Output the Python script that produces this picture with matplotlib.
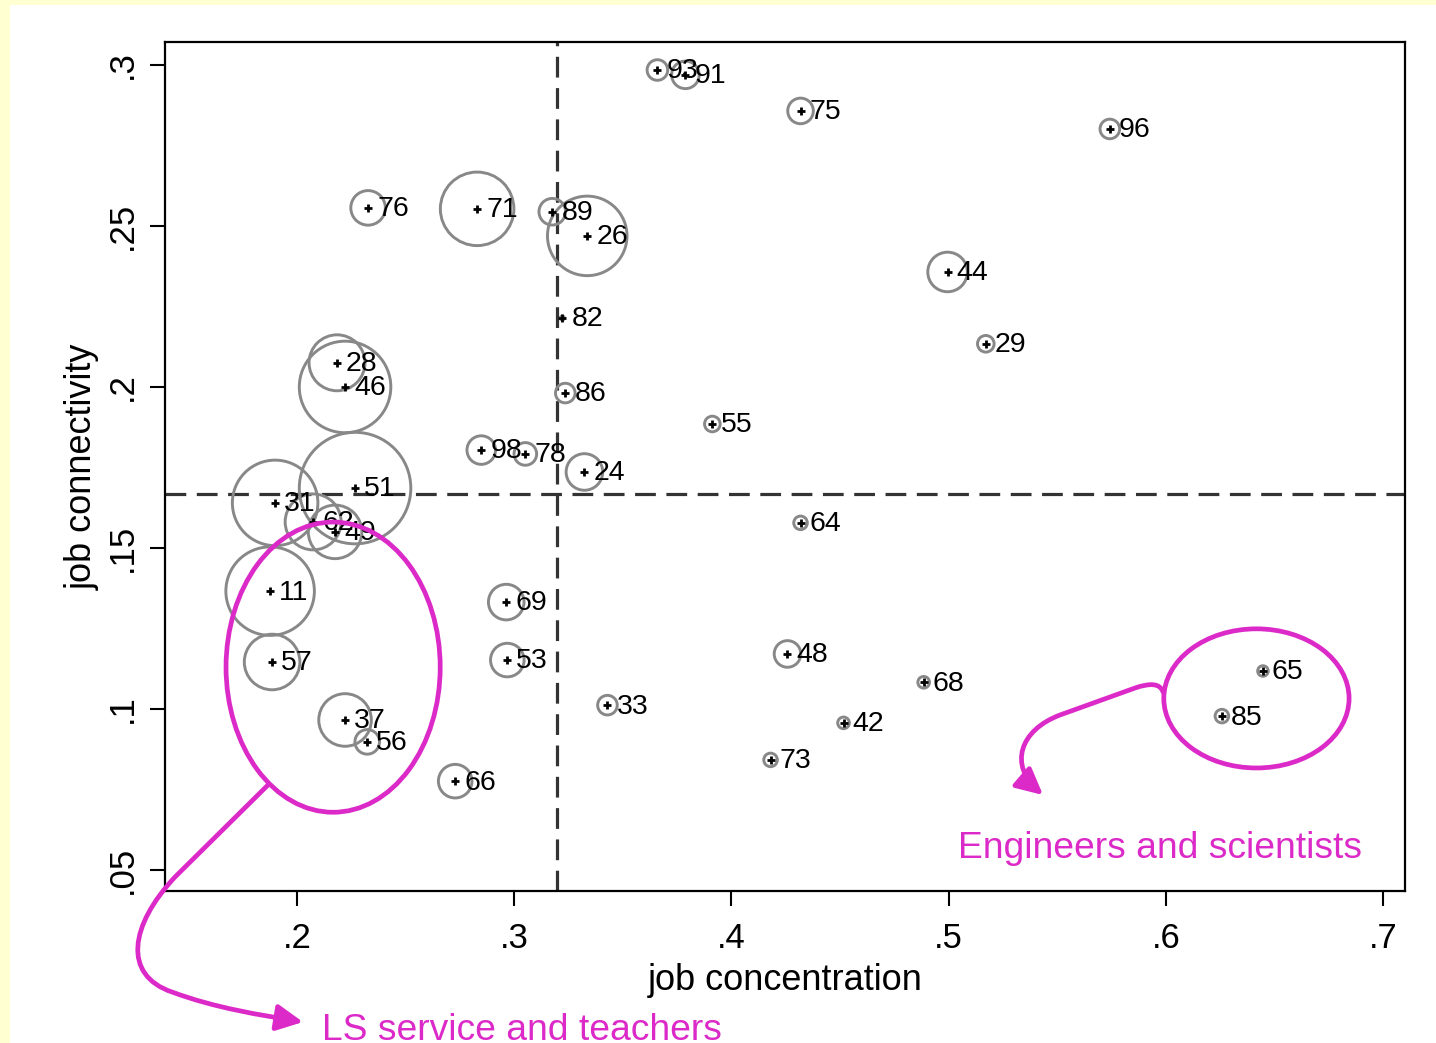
import numpy as np
import matplotlib
matplotlib.use("Agg")
import matplotlib.pyplot as plt
from matplotlib.patches import Ellipse, FancyArrowPatch, Rectangle
from matplotlib.path import Path

plt.rcParams['font.family'] = ['Liberation Sans', 'DejaVu Sans']

# occupation codes, job concentration (x), job connectivity (y), employment weight
occ = ['93', '91', '75', '96', '76', '71', '89', '26', '44', '82', '29', '28', '46',
       '86', '55', '98', '78', '24', '51', '31', '62', '49', '64', '11', '69', '57',
       '53', '48', '65', '68', '33', '85', '42', '37', '56', '73', '66']
conc = [0.3659, 0.3788, 0.4318, 0.5742, 0.2327, 0.2829, 0.3175, 0.3336, 0.4995, 0.3221,
        0.5171, 0.2184, 0.2221, 0.3235, 0.3912, 0.2848, 0.3051, 0.3323, 0.2267, 0.1899,
        0.2074, 0.2175, 0.4318, 0.1876, 0.2963, 0.1885, 0.2968, 0.4258, 0.6447, 0.4885,
        0.3429, 0.6258, 0.4516, 0.2221, 0.2323, 0.4180, 0.2728]
conn = [0.2984, 0.2969, 0.2857, 0.2801, 0.2556, 0.2553, 0.2544, 0.2469, 0.2357, 0.2214,
        0.2134, 0.2075, 0.2000, 0.1981, 0.1885, 0.1804, 0.1792, 0.1736, 0.1686, 0.1640,
        0.1581, 0.1550, 0.1578, 0.1366, 0.1332, 0.1146, 0.1152, 0.1171, 0.1118, 0.1083,
        0.1012, 0.0978, 0.0957, 0.0966, 0.0898, 0.0842, 0.0776]
weight = [106, 190, 164, 96, 299, 1354, 177, 1584, 392, 4, 69, 784, 2098,
          96, 61, 204, 128, 335, 3114, 1832, 784, 718, 46, 1962, 317, 773,
          282, 177, 28, 34, 96, 46, 34, 692, 151, 46, 282]

xticks = [0.2, 0.3, 0.4, 0.5, 0.6, 0.7]
yticks = [0.05, 0.1, 0.15, 0.2, 0.25, 0.3]
mean_conc = 0.3198
mean_conn = 0.1668

pink = '#dc2ac8'
W, H = 1436, 1043

fig = plt.figure(figsize=(W / 100, H / 100), dpi=100, facecolor='#ffffd2')
fig.patches.append(Rectangle((10 / W, 0), 1 - 10 / W, 1 - 5 / H, transform=fig.transFigure,
                             facecolor='white', edgecolor='none', zorder=-10))
ax = fig.add_axes([165 / W, 1 - 891 / H, (1405 - 165) / W, (891 - 42) / H])

ax.scatter(conc, conn, s=np.array(weight) * 2.07, facecolors='none',
           edgecolors='#888888', linewidths=2.1, zorder=3)
ax.scatter(conc, conn, marker='+', s=28, color='black', linewidths=2.0, zorder=4)
for lab, x, y in zip(occ, conc, conn):
    ax.annotate(lab, (x, y), xytext=(6.5, -1), textcoords='offset points',
                fontsize=20.5, va='center', ha='left', zorder=5)

ax.axvline(mean_conc, color='#333333', lw=2.3, ls=(0, (6.5, 3.3)), zorder=2)
ax.axhline(mean_conn, color='#333333', lw=2.3, ls=(0, (6.5, 3.3)), zorder=2)

ax.set_xlim(0.1392, 0.7101)
ax.set_ylim(0.0435, 0.3071)
ax.set_xticks(xticks)
ax.set_xticklabels(['.2', '.3', '.4', '.5', '.6', '.7'])
ax.set_yticks(yticks)
ax.set_yticklabels(['.05', '.1', '.15', '.2', '.25', '.3'], rotation=90, va='center')
ax.tick_params(labelsize=25, length=11, width=1.5)
ax.tick_params(axis='x', pad=11)
ax.tick_params(axis='y', pad=8)
for sp in ax.spines.values():
    sp.set_linewidth(1.6)
ax.set_xlabel('job concentration', fontsize=26, labelpad=6)
ax.set_ylabel('job connectivity', fontsize=26, labelpad=4)

# highlight ellipses
ax.add_patch(Ellipse((0.2166, 0.1130), 0.0986, 0.0901, fill=False, edgecolor=pink,
                     lw=3.4, zorder=6))
ax.add_patch(Ellipse((0.6417, 0.1033), 0.0853, 0.0432, fill=False, edgecolor=pink,
                     lw=3.4, zorder=6))


def px(pts):
    return [(x / W, 1 - y / H) for x, y in pts]


p1 = Path(px([(268, 785), (175, 877), (130, 925), (122, 975), (172, 992),
              (215, 1008), (260, 1015), (303, 1022)]),
          [Path.MOVETO, Path.LINETO, Path.CURVE4, Path.CURVE4, Path.CURVE4,
           Path.CURVE4, Path.CURVE4, Path.CURVE4])
p2 = Path(px([(1163, 692), (1160, 683), (1150, 683), (1135, 688), (1060, 715),
              (1020, 730), (1008, 765), (1043, 795)]),
          [Path.MOVETO, Path.CURVE4, Path.CURVE4, Path.CURVE4, Path.LINETO,
           Path.CURVE4, Path.CURVE4, Path.CURVE4])
for p in (p1, p2):
    fig.patches.append(FancyArrowPatch(path=p, arrowstyle='-|>,head_length=0.8,head_width=0.4',
                                       mutation_scale=20, color=pink, lw=3.4,
                                       transform=fig.transFigure, zorder=7))

fig.text(322 / W, 1 - 1031 / H, 'LS service and teachers', color=pink, fontsize=26.8,
         ha='left', va='center')
fig.text(958 / W, 1 - 849 / H, 'Engineers and scientists', color=pink, fontsize=26.8,
         ha='left', va='center')

fig.savefig('out.png', dpi=100, facecolor=fig.get_facecolor())
